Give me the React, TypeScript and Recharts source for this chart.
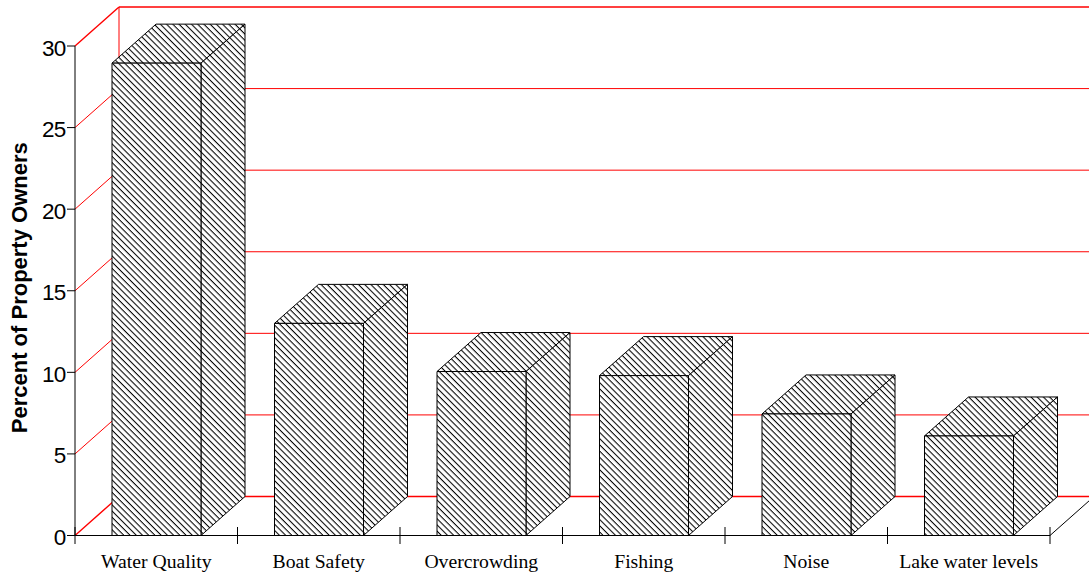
import React from 'react';
import { BarChart, Bar, XAxis, YAxis, CartesianGrid } from 'recharts';

const categories = ['Water Quality', 'Boat Safety', 'Overcrowding', 'Fishing', 'Noise', 'Lake water levels'];
const percents = [28.95, 13.0, 10.05, 9.8, 7.45, 6.1];
const yTicks = [0, 5, 10, 15, 20, 25, 30];

const data = categories.map((name, i) => ({ name, value: percents[i] }));

const WIDTH = 1089;
const HEIGHT = 573;
const AXIS_W = 75;
const AXIS_H = 37.5;
const MARGIN = { top: 46, right: 39, bottom: 0, left: 0 };
const DEPTH_X = 44;
const DEPTH_Y = 39;
const STEP = (WIDTH - AXIS_W - MARGIN.right) / categories.length;
const RED = '#ff0000';

// back wall line plus the diagonal running to the front axis
const WallLine = (props: any) => {
    const { x1, y1, x2, index } = props;
    const isEdge = index === 0 || index === yTicks.length - 1;
    const backY = y1 - DEPTH_Y;
    const backX = x1 + DEPTH_X;
    return (
        <g key={`wall-${index}`}>
            <line x1={x1} y1={y1} x2={backX} y2={backY} stroke={RED} strokeWidth={isEdge ? 1.4 : 1} />
            <line x1={backX} y1={backY} x2={x2 + DEPTH_X} y2={backY} stroke={RED} strokeWidth={isEdge ? 1.6 : 1} />
            {index === 0 ? (
                <line x1={backX} y1={backY} x2={backX} y2={MARGIN.top - DEPTH_Y} stroke={RED} strokeWidth={1} />
            ) : null}
        </g>
    );
};

const Box = (props: any) => {
    const { x, y, width, height } = props;
    const top = `${x},${y} ${x + DEPTH_X},${y - DEPTH_Y} ${x + width + DEPTH_X},${y - DEPTH_Y} ${x + width},${y}`;
    const side = `${x + width},${y} ${x + width + DEPTH_X},${y - DEPTH_Y} ${x + width + DEPTH_X},${y + height - DEPTH_Y} ${x + width},${y + height}`;
    const front = `${x},${y} ${x + width},${y} ${x + width},${y + height} ${x},${y + height}`;
    return (
        <g>
            {[top, side, front].map((points) => (
                <g key={points}>
                    <polygon points={points} fill="#fff" />
                    <polygon points={points} fill="url(#hatch)" stroke="#000" strokeWidth={1} strokeLinejoin="round" />
                </g>
            ))}
        </g>
    );
};

const CategoryTick = (props: any) => {
    const { x, payload, index } = props;
    const axisY = HEIGHT - AXIS_H;
    const left = x - STEP / 2;
    const right = x + STEP / 2;
    return (
        <g>
            <line x1={left} y1={axisY - 8.5} x2={left} y2={axisY + 8.5} stroke="#000" />
            {index === categories.length - 1 ? (
                <g>
                    <line x1={right} y1={axisY - 8.5} x2={right} y2={axisY + 8.5} stroke="#000" />
                    <line x1={right} y1={axisY} x2={right + DEPTH_X} y2={axisY - DEPTH_Y} stroke="#000" />
                </g>
            ) : null}
            <text x={x} y={axisY + 32} textAnchor="middle" fontFamily="Liberation Serif" fontSize={19.7} fill="#000">
                {payload.value}
            </text>
        </g>
    );
};

const ValueTick = (props: any) => {
    const { y, payload } = props;
    return (
        <text
            x={65.5}
            y={y + 9.5}
            textAnchor="end"
            fontFamily="Liberation Sans"
            fontSize={22.5}
            letterSpacing={-0.8}
            fill="#000"
        >
            {payload.value}
        </text>
    );
};

const App = () => {
    return (
        <div style={{ position: 'absolute', left: 0, top: 0, width: WIDTH, height: HEIGHT, background: '#fff' }}>
            <BarChart width={WIDTH} height={HEIGHT} data={data} margin={MARGIN} barCategoryGap={37}>
                <defs>
                    <pattern id="hatch" width="4.4" height="4.4" patternUnits="userSpaceOnUse" patternTransform="rotate(45)">
                        <line x1="0" y1="0.5" x2="4.4" y2="0.5" stroke="#000" strokeWidth="1.1" />
                    </pattern>
                </defs>
                <CartesianGrid vertical={false} horizontal={WallLine} />
                <XAxis
                    dataKey="name"
                    height={AXIS_H}
                    interval={0}
                    tickLine={false}
                    axisLine={{ stroke: '#000' }}
                    tick={CategoryTick}
                />
                <YAxis
                    domain={[0, 30]}
                    ticks={yTicks}
                    width={AXIS_W}
                    tickSize={8}
                    tickLine={{ stroke: '#000' }}
                    axisLine={{ stroke: '#000' }}
                    tick={ValueTick}
                    label={{
                        value: 'Percent of Property Owners',
                        angle: -90,
                        position: 'insideLeft',
                        offset: 0,
                        dx: 19.5,
                        dy: -3,
                        style: { fontFamily: 'Liberation Sans', fontSize: 22, fontWeight: 700, fill: '#000', textAnchor: 'middle' },
                    }}
                />
                <Bar dataKey="value" isAnimationActive={false} shape={Box} />
            </BarChart>
        </div>
    );
};

export default App;
